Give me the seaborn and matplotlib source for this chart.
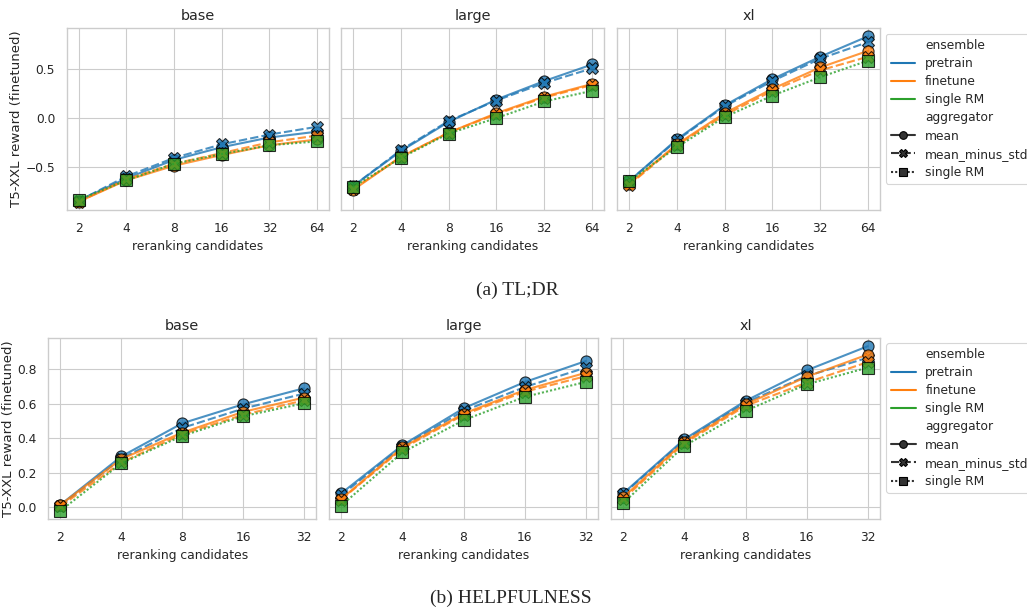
import matplotlib
matplotlib.use("Agg")
import matplotlib.pyplot as plt
from matplotlib.ticker import NullLocator
import pandas as pd
import seaborn as sns

sns.set_theme(style="whitegrid", context="paper")
plt.rcParams["font.family"] = ["DejaVu Sans"]

# ---------------- data ----------------
sizes = ["base", "large", "xl"]
ensembles = ["pretrain", "finetune", "single RM"]
aggregators = ["mean", "mean_minus_std", "single RM"]
series_keys = [("pretrain", "mean"), ("pretrain", "mean_minus_std"),
               ("finetune", "mean"), ("finetune", "mean_minus_std"),
               ("single RM", "single RM")]

tldr_candidates = [2, 4, 8, 16, 32, 64]
help_candidates = [2, 4, 8, 16, 32]

# TL;DR
tldr_base_pretrain_mean = [-0.85, -0.62, -0.43, -0.30, -0.20, -0.14]
tldr_base_pretrain_mms = [-0.85, -0.60, -0.41, -0.27, -0.17, -0.09]
tldr_base_finetune_mean = [-0.86, -0.64, -0.49, -0.38, -0.28, -0.22]
tldr_base_finetune_mms = [-0.86, -0.63, -0.47, -0.36, -0.25, -0.18]
tldr_base_single = [-0.84, -0.64, -0.47, -0.37, -0.28, -0.24]

tldr_large_pretrain_mean = [-0.70, -0.34, -0.04, 0.19, 0.38, 0.55]
tldr_large_pretrain_mms = [-0.70, -0.33, -0.03, 0.18, 0.36, 0.51]
tldr_large_finetune_mean = [-0.74, -0.40, -0.15, 0.05, 0.22, 0.35]
tldr_large_finetune_mms = [-0.73, -0.40, -0.15, 0.04, 0.21, 0.34]
tldr_large_single = [-0.71, -0.41, -0.16, 0.00, 0.17, 0.28]

tldr_xl_pretrain_mean = [-0.65, -0.22, 0.13, 0.40, 0.63, 0.84]
tldr_xl_pretrain_mms = [-0.65, -0.23, 0.12, 0.38, 0.61, 0.78]
tldr_xl_finetune_mean = [-0.68, -0.27, 0.05, 0.30, 0.52, 0.69]
tldr_xl_finetune_mms = [-0.69, -0.28, 0.03, 0.28, 0.49, 0.63]
tldr_xl_single = [-0.65, -0.30, 0.01, 0.23, 0.42, 0.59]

# HELPFULNESS
help_base_pretrain_mean = [0.015, 0.295, 0.487, 0.597, 0.690]
help_base_pretrain_mms = [0.010, 0.283, 0.460, 0.572, 0.659]
help_base_finetune_mean = [0.015, 0.280, 0.433, 0.553, 0.636]
help_base_finetune_mms = [0.005, 0.260, 0.424, 0.536, 0.620]
help_base_single = [-0.020, 0.255, 0.414, 0.528, 0.603]

help_large_pretrain_mean = [0.081, 0.360, 0.574, 0.726, 0.848]
help_large_pretrain_mms = [0.070, 0.352, 0.559, 0.697, 0.810]
help_large_finetune_mean = [0.048, 0.347, 0.543, 0.680, 0.780]
help_large_finetune_mms = [0.045, 0.340, 0.536, 0.670, 0.760]
help_large_single = [0.010, 0.318, 0.505, 0.640, 0.727]

help_xl_pretrain_mean = [0.081, 0.395, 0.617, 0.794, 0.934]
help_xl_pretrain_mms = [0.077, 0.387, 0.607, 0.761, 0.867]
help_xl_finetune_mean = [0.058, 0.380, 0.597, 0.757, 0.886]
help_xl_finetune_mms = [0.048, 0.372, 0.588, 0.723, 0.842]
help_xl_single = [0.025, 0.356, 0.559, 0.713, 0.810]

tldr_table = {
    "base": [tldr_base_pretrain_mean, tldr_base_pretrain_mms, tldr_base_finetune_mean,
             tldr_base_finetune_mms, tldr_base_single],
    "large": [tldr_large_pretrain_mean, tldr_large_pretrain_mms, tldr_large_finetune_mean,
              tldr_large_finetune_mms, tldr_large_single],
    "xl": [tldr_xl_pretrain_mean, tldr_xl_pretrain_mms, tldr_xl_finetune_mean,
           tldr_xl_finetune_mms, tldr_xl_single],
}
help_table = {
    "base": [help_base_pretrain_mean, help_base_pretrain_mms, help_base_finetune_mean,
             help_base_finetune_mms, help_base_single],
    "large": [help_large_pretrain_mean, help_large_pretrain_mms, help_large_finetune_mean,
              help_large_finetune_mms, help_large_single],
    "xl": [help_xl_pretrain_mean, help_xl_pretrain_mms, help_xl_finetune_mean,
           help_xl_finetune_mms, help_xl_single],
}


def build_df(cands, table):
    rows = []
    for size in sizes:
        for (ens, agg), vals in zip(series_keys, table[size]):
            for c, v in zip(cands, vals):
                rows.append(dict(size=size, ensemble=ens, aggregator=agg,
                                 candidates=c, reward=v))
    return pd.DataFrame(rows)


tldr_df = build_df(tldr_candidates, tldr_table)
help_df = build_df(help_candidates, help_table)

palette = dict(zip(ensembles, sns.color_palette("tab10", 3)))
markers = {"mean": "o", "mean_minus_std": "X", "single RM": "s"}
dashes = {"mean": "", "mean_minus_std": (4, 1.5), "single RM": (1, 1)}

W, H = 1027, 609
fig = plt.figure(figsize=(W / 100, H / 100), dpi=100)


def px_axes(left, right, top, bottom, sharey=None):
    return fig.add_axes([left / W, 1 - bottom / H, (right - left) / W, (bottom - top) / H],
                        sharey=sharey)


top_boxes = [(66.7, 329, 28, 210), (341, 604, 28, 210), (617, 880, 28, 210)]
bot_boxes = [(48.3, 316, 338, 519), (329, 598, 338, 519), (611, 880, 338, 519)]


def draw_row(df, cands, boxes, legend_y, ylabel_x):
    first = None
    for i, (size, box) in enumerate(zip(sizes, boxes)):
        ax = px_axes(*box, sharey=first)
        if first is None:
            first = ax
        sub = df[df["size"] == size]
        sns.lineplot(data=sub, x="candidates", y="reward", hue="ensemble", style="aggregator",
                     hue_order=ensembles, style_order=aggregators, palette=palette,
                     markers=markers, dashes=dashes, markersize=8,
                     markeredgecolor="black", markeredgewidth=0.8, alpha=0.8,
                     linewidth=1.5, ax=ax, legend=(size == "xl"))
        ax.set_xscale("log", base=2)
        ax.set_xticks(cands)
        ax.set_xticklabels([str(c) for c in cands])
        ax.xaxis.set_minor_locator(NullLocator())
        ax.set_title(size, fontsize=10.4)
        ax.set_xlabel("reranking candidates", fontsize=8.9)
        if i == 0:
            ax.set_ylabel("T5-XXL reward (finetuned)", fontsize=9.6)
            ax.yaxis.set_label_coords(ylabel_x, 0.5)
        else:
            ax.set_ylabel("")
            ax.tick_params(labelleft=False)
        ax.tick_params(labelsize=8.8)
        if size == "xl":
            sns.move_legend(ax, "upper left", bbox_to_anchor=(1.023, legend_y),
                            borderaxespad=0, frameon=True, fontsize=8.8,
                            labelspacing=0.42)
            leg = ax.get_legend()
            for h in leg.legend_handles:
                h.set_markersize(5.5)
                h.set_alpha(1.0)
    return first


draw_row(tldr_df, tldr_candidates, top_boxes, 0.967, -0.167)
draw_row(help_df, help_candidates, bot_boxes, 0.972, -0.124)

fig.text(517 / W, 1 - 290 / H, "(a) TL;DR", ha="center", va="center",
         fontsize=14, family=["Liberation Serif", "DejaVu Serif"])
fig.text(511 / W, 1 - 598 / H, "(b) HELPFULNESS", ha="center", va="center",
         fontsize=14, family=["Liberation Serif", "DejaVu Serif"])

fig.savefig("out.png", dpi=100)
